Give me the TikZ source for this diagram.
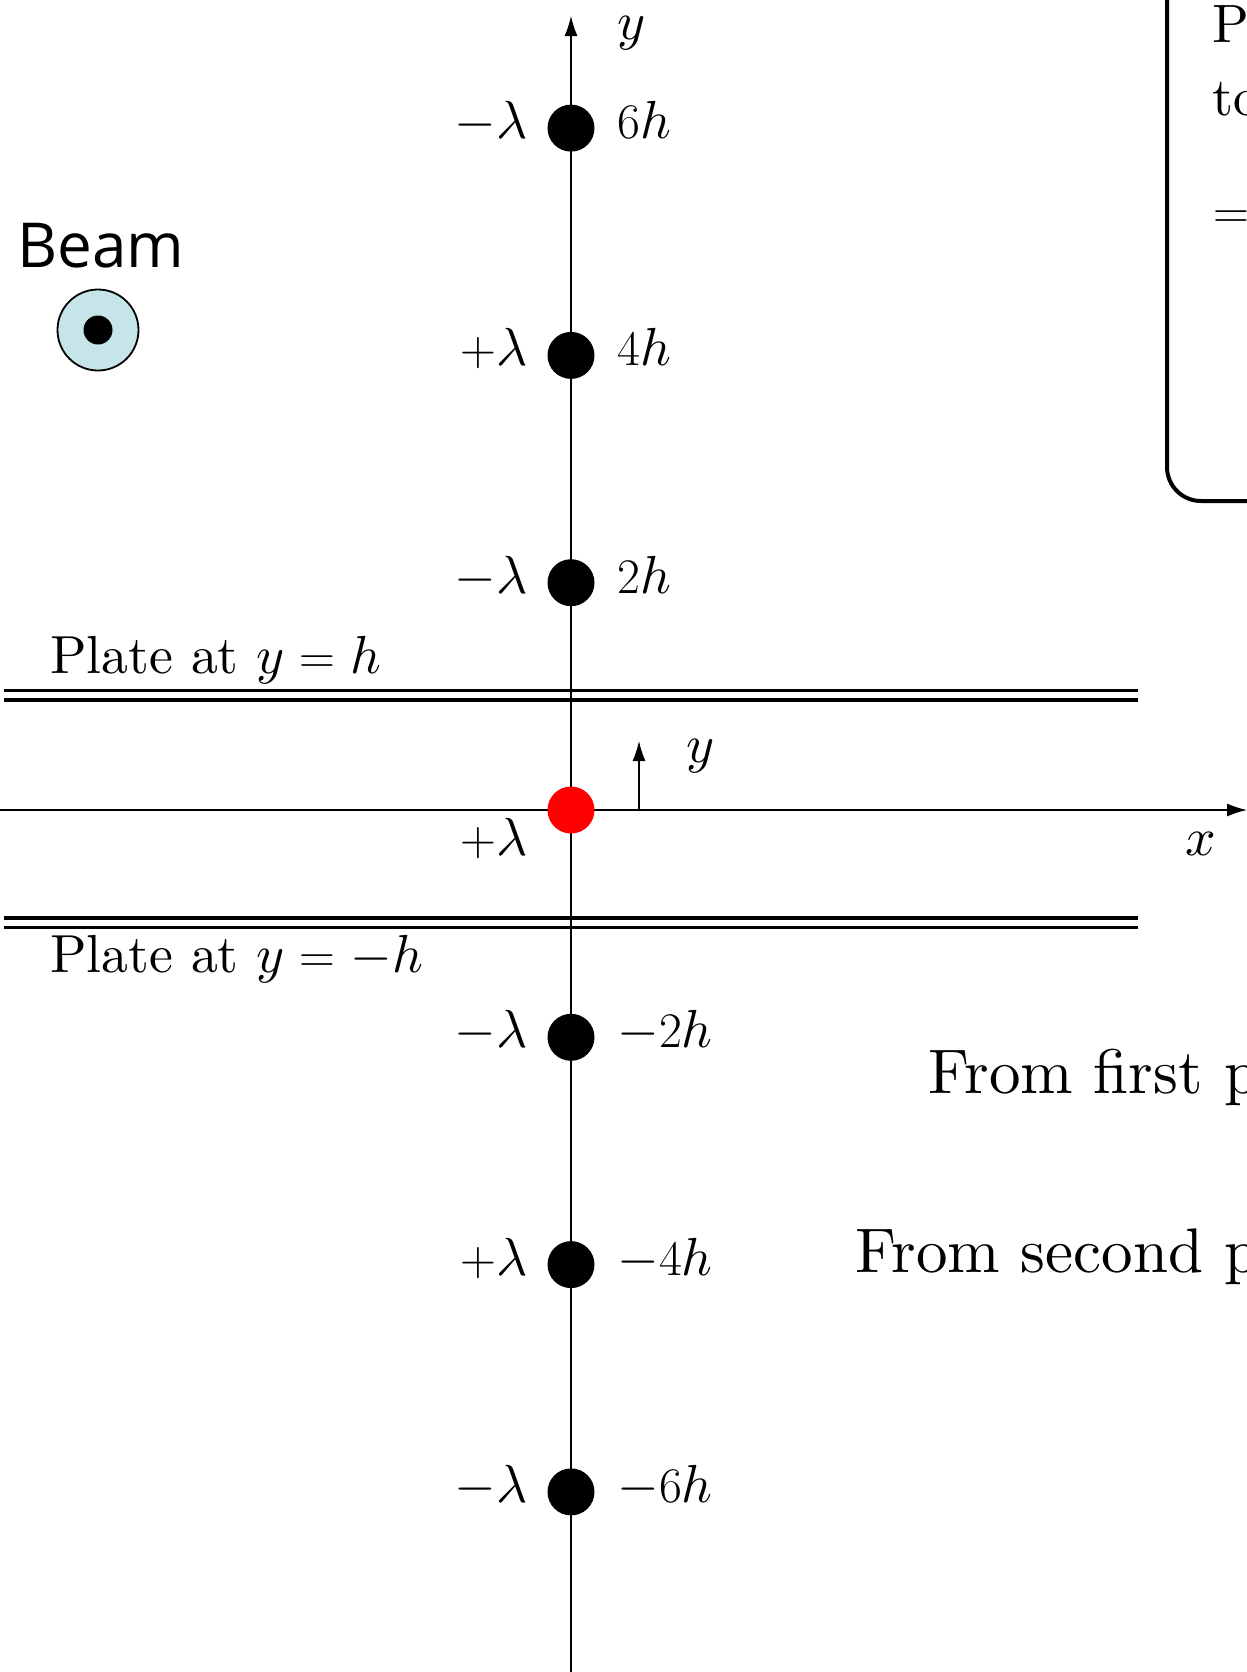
\documentclass[tikz,border=0pt]{standalone}
\usepackage{fontspec}
\setmainfont{lmroman10-regular.otf}[BoldFont=lmroman10-bold.otf,ItalicFont=lmroman10-italic.otf]
\newfontfamily\beamfont{Open Sans}
\DeclareFontShape{OML}{cmm}{m}{it}{<->cmmi10}{}
\DeclareFontShape{OMS}{cmsy}{m}{n}{<->cmsy10}{}
\usepackage{xcolor}
\usepackage{tikz}
\usetikzlibrary{arrows.meta}
\definecolor{beamblue}{HTML}{C5E5E8}
\definecolor{redq}{HTML}{FF0000}

\begin{document}
\begin{tikzpicture}[x=0.5pt,y=-0.5pt,font=\fontsize{26.8}{32}\selectfont,
  axis/.style={line width=0.7pt,-{Latex[length=10pt,width=6.5pt]}},
  plate/.style={line width=1.7pt,double distance=3pt},
  charge/.style={circle,fill=black,minimum size=23.5pt,inner sep=0pt},
  lab/.style={inner sep=0pt},
  big/.style={inner sep=0pt,anchor=base west,font=\fontsize{31.5}{37}\selectfont}]
\useasboundingbox (0,0) rectangle (1247,1672);
\coordinate (pu1) at (4,695.3);
\coordinate (pu2) at (1138,695.3);
\coordinate (pd1) at (4,922.5);
\coordinate (pd2) at (1138,922.5);
\draw[plate] (pu1)--(pu2);
\draw[plate] (pd1)--(pd2);
\node[lab,anchor=base west] (plateup) at (50,673) {Plate at $y=h$};
\node[lab,anchor=base west] (platedown) at (50,972) {Plate at $y=-h$};
\coordinate (ybot) at (571,1672);
\coordinate (ytop) at (571,16);
\coordinate (xleft) at (0,810);
\coordinate (xright) at (1247,810);
\draw[axis] (ybot)--(ytop);
\draw[axis] (xleft)--(xright);
\node[lab,anchor=base west] (ylab) at (617,39) {$y$};
\node[lab,anchor=base west] (xlab) at (1185,855) {$x$};
\coordinate (ysmall0) at (639,810);
\coordinate (ysmall1) at (639,741);
\draw[axis] (ysmall0)--(ysmall1);
\node[lab,anchor=base west] (ysmalllab) at (686,762) {$y$};
\foreach \k/\nm/\q/\lab in {6/q6/-/6h,4/q4/+/4h,2/q2/-/2h,-2/qm2/-/-2h,-4/qm4/+/-4h,-6/qm6/-/-6h}
  {\node[charge] (\nm) at (571,{810-\k*113.65}) {};
   \node[lab,anchor=base east] at ([xshift=-21.5pt,yshift=-5.2pt]\nm.center) {$\q\lambda$};
   \node[lab,anchor=base west] at ([xshift=23pt,yshift=-5.2pt]\nm.center) {$\lab$};}
\node[charge,fill=redq] (q0) at (571,810) {};
\node[lab,anchor=base east] (q0lab) at ([xshift=-21.5pt,yshift=-22.5pt]q0.center) {$+\lambda$};
\node[lab,anchor=base,font=\beamfont\fontsize{31}{37}\selectfont] (beamlab) at (101,267) {Beam};
\node[circle,draw,line width=0.9pt,fill=beamblue,minimum size=40.5pt,inner sep=0pt] (beam) at (98,330) {};
\node[circle,fill=black,minimum size=14.5pt,inner sep=0pt] (beamdot) at (beam.center) {};
\draw[line width=2pt,rounded corners=17pt] (1167,-60) rectangle (1460,501);
\node[lab,anchor=base west,font=\fontsize{27}{32}\selectfont] (boxP) at (1212,42) {P};
\node[lab,anchor=base west,font=\fontsize{27}{32}\selectfont] (boxto) at (1212,115) {to};
\node[lab,anchor=base west,font=\fontsize{27}{32}\selectfont] (boxeq) at (1213,228) {$=$};
\node[big] (first) at (928,1093) {From first p};
\node[big] (second) at (855,1272) {From second p};
\end{tikzpicture}
\end{document}
